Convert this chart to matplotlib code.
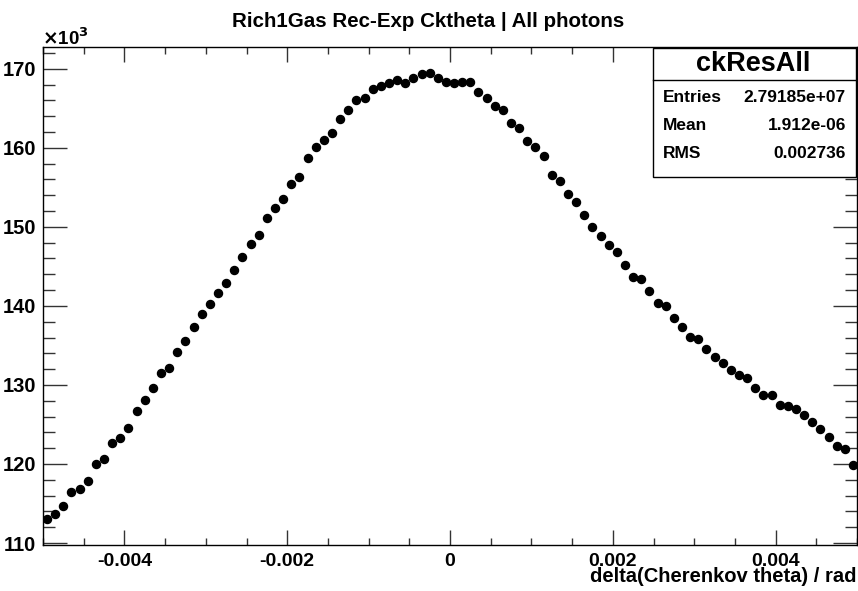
import numpy as np
import matplotlib
matplotlib.use("Agg")
import matplotlib.pyplot as plt
from matplotlib.ticker import MultipleLocator, FuncFormatter
from matplotlib.patches import Rectangle

plt.rcParams['font.family'] = ['Liberation Sans', 'DejaVu Sans']
plt.rcParams['font.weight'] = 'bold'

# histogram: 100 bins from -0.005 to 0.005, contents in units of 1e3
x_lo, x_hi, n_bins = -0.005, 0.005, 100
counts_k = [
    113.08, 113.72, 114.68, 116.45, 116.88, 117.85, 120.00, 120.60, 122.71, 123.34,
    124.61, 126.76, 128.07, 129.63, 131.45, 132.09, 134.19, 135.51, 137.35, 138.93,
    140.23, 141.66, 142.93, 144.54, 146.22, 147.87, 148.97, 151.09, 152.39, 153.53,
    155.43, 156.28, 158.73, 160.16, 161.01, 161.85, 163.58, 164.72, 166.03, 166.29,
    167.43, 167.76, 168.14, 168.57, 168.14, 168.86, 169.33, 169.46, 168.86, 168.32,
    168.14, 168.35, 168.32, 167.00, 166.29, 165.27, 164.84, 163.16, 162.56, 160.88,
    160.12, 158.98, 156.57, 155.81, 154.13, 153.11, 151.50, 149.95, 148.81, 147.67,
    146.82, 145.21, 143.65, 143.36, 141.92, 140.36, 139.94, 138.50, 137.36, 136.09,
    135.80, 134.49, 133.48, 132.76, 131.91, 131.24, 130.90, 129.59, 128.74, 128.74,
    127.44, 127.31, 126.93, 126.17, 125.28, 124.48, 123.47, 122.33, 121.90, 119.92,
]

hist_name = 'ckResAll'
title = 'Rich1Gas Rec-Exp Cktheta | All photons'
x_title = 'delta(Cherenkov theta) / rad'
stats = [('Entries', '2.79185e+07'), ('Mean', '1.912e-06'), ('RMS', '0.002736')]

edges = np.linspace(x_lo, x_hi, n_bins + 1)
centers = 0.5 * (edges[:-1] + edges[1:])
counts = np.array(counts_k) * 1e3

W, H = 858, 591
fig = plt.figure(figsize=(W / 100, H / 100), dpi=100)
ax = fig.add_axes([43 / W, (H - 545) / H, 814 / W, (545 - 47) / H])

ax.plot(centers, counts, 'o', color='black', markersize=5.8, linestyle='none')

ax.set_xlim(x_lo, x_hi)
ax.set_ylim(109.75e3, 172.75e3)

ax.xaxis.set_major_locator(MultipleLocator(0.002))
ax.xaxis.set_minor_locator(MultipleLocator(0.0005))
ax.yaxis.set_major_locator(MultipleLocator(10e3))
ax.yaxis.set_minor_locator(MultipleLocator(2e3))
ax.xaxis.set_major_formatter(FuncFormatter(lambda v, p: '0' if abs(v) < 1e-12 else f'{v:g}'))
ax.yaxis.set_major_formatter(FuncFormatter(lambda v, p: f'{v / 1e3:.0f}'))

ax.tick_params(axis='both', which='both', direction='in', top=True, right=True, width=1, color='#333333')
ax.tick_params(axis='x', which='major', length=10.8, labelsize=14, pad=5.5)
ax.tick_params(axis='x', which='minor', length=5)
ax.tick_params(axis='y', which='major', length=17.3, labelsize=14.5, pad=5)
ax.tick_params(axis='y', which='minor', length=8.6)
for s in ax.spines.values():
    s.set_linewidth(1.0)

# ROOT style x10^3 exponent
fig.text(42 / W, (H - 38) / H, r'$\times$10$^{\mathbf{3}}$', fontsize=13.5, ha='left', va='center')

fig.text(428 / W, (H - 27) / H, title, fontsize=14.8, ha='center', va='baseline')
fig.text(857 / W, (H - 576) / H, x_title, fontsize=14.5, ha='right', va='center')

# stats box
bx0, by0, bx1, by1 = 653, 48, 856, 177
fig.patches.append(Rectangle((bx0 / W, (H - by1) / H), (bx1 - bx0) / W, (by1 - by0) / H,
                             transform=fig.transFigure, facecolor='white', edgecolor='black',
                             linewidth=1.0, zorder=5))
fig.add_artist(plt.Line2D([bx0 / W, bx1 / W], [(H - 80) / H, (H - 80) / H],
                          transform=fig.transFigure, color='black', linewidth=1.0, zorder=6))
fig.text(753 / W, (H - 64) / H, hist_name, fontsize=19.5, ha='center', va='center', zorder=7)
for i, (k, v) in enumerate(stats):
    yy = (H - (97 + 28.5 * i)) / H
    fig.text(663 / W, yy, k, fontsize=12.5, ha='left', va='center', zorder=7)
    fig.text(846 / W, yy, v, fontsize=12.5, ha='right', va='center', zorder=7)

fig.savefig('out.png', dpi=100)
